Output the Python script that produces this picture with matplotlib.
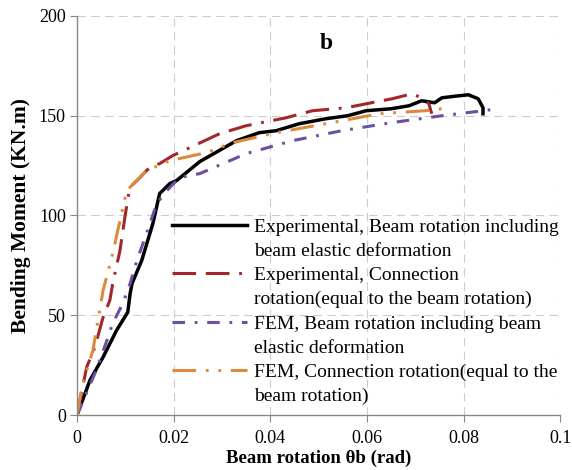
import matplotlib
matplotlib.use("Agg")
import matplotlib.pyplot as plt
from matplotlib.lines import Line2D

plt.rcParams['font.family'] = ['Liberation Serif', 'DejaVu Serif']
plt.rcParams['lines.scale_dashes'] = False

# Experimental, beam rotation including beam elastic deformation
exp_beam_x = [0, 0.0027, 0.0054, 0.0082, 0.0105, 0.0110, 0.0114, 0.0134, 0.0157, 0.0171,
              0.0192, 0.0206, 0.0254, 0.0330, 0.0377, 0.0412, 0.0460, 0.0515, 0.0560,
              0.0598, 0.0650, 0.0687, 0.0713, 0.0740, 0.0755, 0.0790, 0.0810, 0.0830,
              0.0840, 0.0840]
exp_beam_y = [0, 17.5, 29, 42.5, 51.5, 61, 66, 77.5, 96, 111,
              116, 117.5, 127, 137.5, 141.5, 142.5, 146, 148.5, 150,
              152.5, 153.5, 155, 157.5, 156.5, 159, 160, 160.5, 158.5,
              154, 151]

# Experimental, connection rotation
exp_conn_x = [0, 0.0020, 0.0037, 0.0054, 0.0068, 0.0074, 0.0089, 0.0099, 0.0109, 0.0124,
              0.0150, 0.0171, 0.0198, 0.0295, 0.0350, 0.0433, 0.0487, 0.0557, 0.0630,
              0.0652, 0.0693, 0.0713, 0.0728, 0.0734]
exp_conn_y = [0, 24, 34, 49, 57.5, 66, 82.5, 99, 114, 117.5,
              124, 126, 130, 141, 145, 149, 152.5, 154, 157.5,
              158.5, 161, 159, 156, 151]

# FEM, beam rotation including beam elastic deformation
fem_beam_x = [0, 0.0040, 0.0062, 0.0074, 0.0095, 0.0110, 0.0124, 0.0144, 0.0165, 0.0186,
              0.0212, 0.0254, 0.0350, 0.0446, 0.0548, 0.0650, 0.0755, 0.0840, 0.0855]
fem_beam_y = [0, 22.5, 37.5, 46, 56, 66, 77.5, 91, 106, 112.5,
              119, 121, 131, 137.5, 142.5, 146.5, 150, 152.5, 153]

# FEM, connection rotation
fem_conn_x = [0, 0.0012, 0.0033, 0.0054, 0.0072, 0.0089, 0.0103, 0.0144, 0.0192, 0.0268,
              0.0322, 0.0412, 0.0515, 0.0625, 0.0720, 0.0769]
fem_conn_y = [0, 16, 32.5, 62.5, 79, 97.5, 112.5, 122.5, 127.5, 131.5,
              136.5, 141.5, 146, 151, 152.5, 154]

labels = [
    "Experimental, Beam rotation including", "beam elastic deformation",
    "Experimental, Connection", "rotation(equal to the beam rotation)",
    "FEM, Beam rotation including beam", "elastic deformation",
    "FEM, Connection rotation(equal to the", "beam rotation)",
]
x_ticks = [0, 0.02, 0.04, 0.06, 0.08, 0.1]
x_tick_labels = ["0", "0.02", "0.04", "0.06", "0.08", "0.1"]
y_ticks = [0, 50, 100, 150, 200]

fig = plt.figure(figsize=(5.72, 4.70), dpi=100)
ax = fig.add_axes([0.1346, 0.117, 0.845, 0.849])

c_black = "#000000"
c_red = "#A3262A"
c_purple = "#6B4FA0"
c_orange = "#DC8A3C"

l1, = ax.plot(exp_beam_x, exp_beam_y, color=c_black, lw=2.5, solid_joinstyle='round')
l2, = ax.plot(exp_conn_x, exp_conn_y, color=c_red, lw=2.2, dashes=(17, 7, 17, 7, 2, 7))
l3, = ax.plot(fem_beam_x, fem_beam_y, color=c_purple, lw=2.2, dashes=(9, 7, 2, 7))
l4, = ax.plot(fem_conn_x, fem_conn_y, color=c_orange, lw=2.2, dashes=(17, 7, 2, 7, 2, 7))

ax.set_xlim(0, 0.1)
ax.set_ylim(0, 200)
ax.set_xticks(x_ticks)
ax.set_xticklabels(x_tick_labels)
ax.set_yticks(y_ticks)
ax.tick_params(axis='both', labelsize=13, direction='out', length=5, color='#888888', pad=3)
ax.tick_params(axis='x', pad=6)
ax.grid(True, color='#CCCCCC', linestyle=(0, (6, 4)), lw=0.8)
for s in ['top', 'right']:
    ax.spines[s].set_visible(False)
for s in ['left', 'bottom']:
    ax.spines[s].set_color('#888888')
    ax.spines[s].set_linewidth(1.0)

ax.set_xlabel("Beam rotation θb (rad)", fontsize=13.5, fontweight='bold', labelpad=2)
ax.set_ylabel("Bending Moment (KN.m)", fontsize=15.5, fontweight='bold', labelpad=6)

ax.text(0.0515, 186, "b", fontsize=17, fontweight='bold', ha='center', va='center')

blank = Line2D([], [], lw=0, color='none')
handles = [l1, blank, l2, blank, l3, blank, l4, blank]
leg = ax.legend(handles, labels, loc='upper left', frameon=False,
                fontsize=14, handlelength=3.9, handletextpad=0.35, labelspacing=0.34,
                borderpad=0, borderaxespad=0)
leg.set_bbox_to_anchor((0.300, 1 - 218 / 470), transform=fig.transFigure)

fig.savefig("out.png", dpi=100)
